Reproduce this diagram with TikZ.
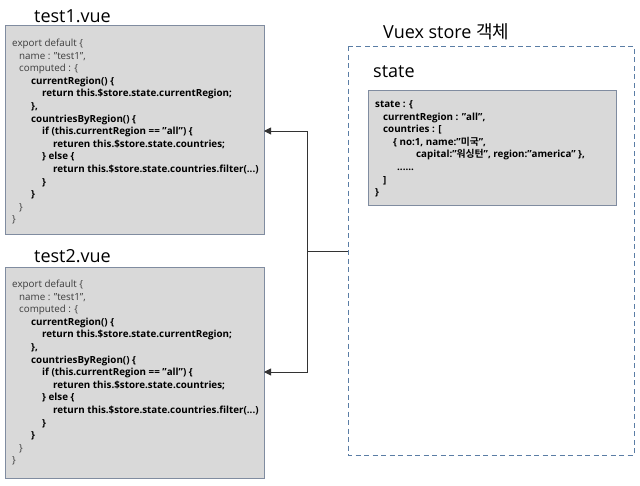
\documentclass[tikz,border=0pt]{standalone}
\usepackage{fontspec}
\setmainfont{Open Sans}
\newfontfamily\kr{Noto Sans CJK KR}[BoldFont={* Bold}]
\usetikzlibrary{arrows.meta}
\definecolor{boxfill}{RGB}{217,217,217}
\definecolor{boxline}{RGB}{128,140,160}
\definecolor{dashline}{RGB}{90,125,165}
\definecolor{codegray}{RGB}{60,60,60}
\newcommand{\ind}[1]{\hspace*{#1pt}}
\tikzset{
  codebox/.style={draw=boxline, line width=1pt, fill=boxfill},
  codetext/.style={anchor=north west, inner sep=0pt, align=left,
    font={\fontsize{9.8}{12.6}\selectfont}},
  title/.style={anchor=west, inner sep=0pt, font={\fontsize{18}{20}\selectfont}},
  conn/.style={draw=black!80, line width=0.9pt},
  arr/.style={conn, -{Triangle[length=7pt,width=7pt]}}
}
\begin{document}
\begin{tikzpicture}[x=1pt,y=-1pt]
\useasboundingbox (0,0) rectangle (640,485);
% test1
\node[title] (t1) at (34,16) {test1.vue};
\draw[codebox] (5,25) rectangle (264,234);
\coordinate (b1) at (264,131);
\node[codetext] (c1) at (12,37.5) {%
\color{codegray}\strut export default \{\\
\color{codegray}\strut\ind{7}name : "test1",\\
\color{codegray}\strut\ind{7}computed : \{\\
\bfseries\strut\ind{19}currentRegion() \{\\
\bfseries\strut\ind{30}return this.\$store.state.currentRegion;\\
\bfseries\strut\ind{19}\},\\
\bfseries\strut\ind{19}countriesByRegion() \{\\
\bfseries\strut\ind{30}if (this.currentRegion == "all") \{\\
\bfseries\strut\ind{41}returen this.\$store.state.countries;\\
\bfseries\strut\ind{30}\} else \{\\
\bfseries\strut\ind{41}return this.\$store.state.countries.filter(...)\\
\bfseries\strut\ind{30}\}\\
\bfseries\strut\ind{19}\}\\
\color{codegray}\strut\ind{7}\}\\
\color{codegray}\strut \}};
% test2
\node[title] (t2) at (34,256) {test2.vue};
\draw[codebox] (5,267) rectangle (264,478);
\coordinate (b2) at (264,372);
\node[codetext] (c2) at (12,278.5) {%
\color{codegray}\strut export default \{\\
\color{codegray}\strut\ind{7}name : "test1",\\
\color{codegray}\strut\ind{7}computed : \{\\
\bfseries\strut\ind{19}currentRegion() \{\\
\bfseries\strut\ind{30}return this.\$store.state.currentRegion;\\
\bfseries\strut\ind{19}\},\\
\bfseries\strut\ind{19}countriesByRegion() \{\\
\bfseries\strut\ind{30}if (this.currentRegion == "all") \{\\
\bfseries\strut\ind{41}returen this.\$store.state.countries;\\
\bfseries\strut\ind{30}\} else \{\\
\bfseries\strut\ind{41}return this.\$store.state.countries.filter(...)\\
\bfseries\strut\ind{30}\}\\
\bfseries\strut\ind{19}\}\\
\color{codegray}\strut\ind{7}\}\\
\color{codegray}\strut \}};
% store
\draw[dashline, line width=1pt, dash pattern=on 5pt off 3.5pt] (348,46) rectangle (634,455);
\coordinate (s) at (348,251);
\node[title] (vs) at (383,32) {Vuex store {\kr 객체}};
\node[title] (st) at (373,72) {state};
\draw[codebox] (368,90) rectangle (616,205);
\node[codetext] (sc) at (375,98.5) {\bfseries%
\strut state : \{\\
\bfseries\strut\ind{8}currentRegion : "all",\\
\bfseries\strut\ind{8}countries : [\\
\bfseries\strut\ind{18}\{ no:1, name:"{\kr 미국}",\\
\bfseries\strut\ind{41}capital:"{\kr 워싱턴}", region:"america" \},\\
\bfseries\strut\ind{22}......\\
\bfseries\strut\ind{8}]\\
\bfseries\strut \}};
% connectors
\coordinate (j) at (307,251);
\draw[conn] (s) -- (j);
\draw[arr] (j) |- (b1);
\draw[arr] (j) |- (b2);
\end{tikzpicture}
\end{document}
